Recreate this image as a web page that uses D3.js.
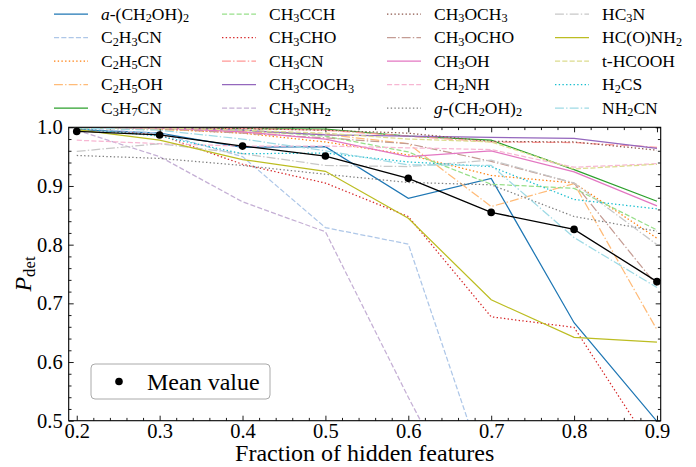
<!DOCTYPE html>
<html>
<head>
<meta charset="utf-8">
<script src="https://cdn.jsdelivr.net/npm/d3@7"></script>
<style>
  html, body { margin: 0; padding: 0; background: #fff; }
  svg { display: block; font-family: "Liberation Serif", "DejaVu Serif", serif; }
</style>
</head>
<body>
<svg id="chart" width="696" height="467"></svg>
<script>
// ---------------- data ----------------
const fractions = [0.2, 0.3, 0.4, 0.5, 0.6, 0.7, 0.8, 0.9];

// label markup: *text* = italic, _X = subscript char
const names = [
  "*a*-(CH_2OH)_2", "C_2H_3CN", "C_2H_5CN", "C_2H_5OH", "C_3H_7CN",
  "CH_3CCH", "CH_3CHO", "CH_3CN", "CH_3COCH_3", "CH_3NH_2",
  "CH_3OCH_3", "CH_3OCHO", "CH_3OH", "CH_2NH", "*g*-(CH_2OH)_2",
  "HC_3N", "HC(O)NH_2", "t-HCOOH", "H_2CS", "NH_2CN"
];

const aCH2OH2  = [0.996, 0.990, 0.966, 0.967, 0.879, 0.913, 0.667, 0.499];
const C2H3CN   = [0.998, 0.990, 0.950, 0.829, 0.801, 0.383, 0.450, 0.250];
const C2H5CN   = [0.999, 0.997, 0.990, 0.975, 0.953, 0.918, 0.905, 0.811];
const C2H5OH   = [0.999, 0.996, 0.992, 0.988, 0.972, 0.865, 0.904, 0.655];
const C3H7CN   = [1.000, 0.999, 0.998, 0.997, 0.985, 0.978, 0.928, 0.874];
const CH3CCH   = [0.999, 0.998, 0.995, 0.985, 0.958, 0.903, 0.896, 0.825];
const CH3CHO   = [0.997, 0.987, 0.937, 0.905, 0.848, 0.677, 0.659, 0.441];
const CH3CN    = [1.000, 0.999, 0.998, 0.995, 0.985, 0.975, 0.974, 0.966];
const CH3COCH3 = [1.000, 0.999, 0.995, 0.987, 0.985, 0.983, 0.981, 0.964];
const CH3NH2   = [0.995, 0.950, 0.873, 0.822, 0.540, 0.270, 0.410, 0.180];
const CH3OCH3  = [1.000, 0.999, 0.998, 0.995, 0.990, 0.976, 0.975, 0.961];
const CH3OCHO  = [1.000, 0.998, 0.990, 0.982, 0.972, 0.942, 0.905, 0.730];
const CH3OH    = [1.000, 0.999, 0.992, 0.980, 0.950, 0.960, 0.924, 0.866];
const CH2NH    = [0.978, 0.972, 0.968, 0.968, 0.965, 0.962, 0.932, 0.938];
const gCH2OH2  = [0.952, 0.947, 0.935, 0.920, 0.906, 0.902, 0.848, 0.823];
const HC3N     = [0.959, 0.972, 0.955, 0.935, 0.933, 0.944, 0.905, 0.800];
const HCONH2   = [0.996, 0.978, 0.945, 0.925, 0.845, 0.706, 0.642, 0.634];
const tHCOOH   = [1.000, 0.999, 0.995, 0.990, 0.980, 0.975, 0.929, 0.937];
const H2CS     = [0.998, 0.985, 0.955, 0.956, 0.941, 0.933, 0.877, 0.861];
const NH2CN    = [0.999, 0.995, 0.980, 0.960, 0.936, 0.935, 0.812, 0.727];

const meanValue = [0.993, 0.987, 0.968, 0.951, 0.913, 0.855, 0.826, 0.737];

const seriesValues = [aCH2OH2, C2H3CN, C2H5CN, C2H5OH, C3H7CN, CH3CCH, CH3CHO, CH3CN,
  CH3COCH3, CH3NH2, CH3OCH3, CH3OCHO, CH3OH, CH2NH, gCH2OH2, HC3N, HCONH2, tHCOOH, H2CS, NH2CN];

const xTicks = [0.2, 0.3, 0.4, 0.5, 0.6, 0.7, 0.8, 0.9];
const yTicks = [0.5, 0.6, 0.7, 0.8, 0.9, 1.0];

// ---------------- style ----------------
const colors = ["#1f77b4","#aec7e8","#ff7f0e","#ffbb78","#2ca02c","#98df8a",
  "#d62728","#ff9896","#9467bd","#c5b0d5","#8c564b","#c49c94","#e377c2","#f7b6d2",
  "#7f7f7f","#c7c7c7","#bcbd22","#dbdb8d","#17becf","#9edae5"];
const dashStyles = [null, "5.1,2.2", "1.4,2.3", "8.9,2.2,1.4,2.2"];

const svg = d3.select("#chart");
const L = 68.7, R = 660.7, T = 127.3, B = 420.7;

const x = d3.scaleLinear().domain([0.1903, 0.9045]).range([L, R]);
const y = d3.scaleLinear().domain([0.5, 1.0]).range([B, T]);

// clip
svg.append("defs").append("clipPath").attr("id", "plotclip")
  .append("rect").attr("x", L).attr("y", T).attr("width", R - L).attr("height", B - T);

// minor ticks
const xMinor = d3.range(0.22, 0.9, 0.02).filter(v => Math.abs(v * 10 - Math.round(v * 10)) > 1e-6);
const yMinor = d3.range(0.52, 1.0, 0.02).filter(v => Math.abs(v * 10 - Math.round(v * 10)) > 1e-6);

function styleAxis(g) {
  g.select(".domain").remove();
  g.selectAll(".tick line").attr("stroke", "#000").attr("stroke-width", 0.9);
}

svg.append("g").attr("transform", `translate(0,${B})`)
  .call(d3.axisBottom(x).tickValues(xTicks).tickSize(-5).tickPadding(2.5).tickFormat(d3.format(".1f")))
  .call(styleAxis)
  .selectAll("text").attr("font-size", 20.5).attr("font-family", "Liberation Serif").attr("fill", "#000");
svg.append("g").attr("transform", `translate(0,${B})`)
  .call(d3.axisBottom(x).tickValues(xMinor).tickSize(-2.8).tickFormat(""))
  .call(styleAxis);
svg.append("g").attr("transform", `translate(0,${T})`)
  .call(d3.axisTop(x).tickValues(xTicks).tickSize(-5).tickFormat(""))
  .call(styleAxis);
svg.append("g").attr("transform", `translate(0,${T})`)
  .call(d3.axisTop(x).tickValues(xMinor).tickSize(-2.8).tickFormat(""))
  .call(styleAxis);

svg.append("g").attr("transform", `translate(${L},0)`)
  .call(d3.axisLeft(y).tickValues(yTicks).tickSize(-5).tickPadding(6).tickFormat(d3.format(".1f")))
  .call(styleAxis)
  .selectAll("text").attr("font-size", 20.5).attr("font-family", "Liberation Serif").attr("fill", "#000");
svg.append("g").attr("transform", `translate(${L},0)`)
  .call(d3.axisLeft(y).tickValues(yMinor).tickSize(-2.8).tickFormat(""))
  .call(styleAxis);
svg.append("g").attr("transform", `translate(${R},0)`)
  .call(d3.axisRight(y).tickValues(yTicks).tickSize(-5).tickFormat(""))
  .call(styleAxis);
svg.append("g").attr("transform", `translate(${R},0)`)
  .call(d3.axisRight(y).tickValues(yMinor).tickSize(-2.8).tickFormat(""))
  .call(styleAxis);

// series lines
const line = d3.line().x((d, i) => x(fractions[i])).y(d => y(d));
const plot = svg.append("g").attr("clip-path", "url(#plotclip)");
seriesValues.forEach((vals, i) => {
  plot.append("path")
    .attr("d", line(vals))
    .attr("fill", "none")
    .attr("stroke", colors[i])
    .attr("stroke-width", 1.25)
    .attr("stroke-dasharray", dashStyles[i % 4]);
});

// mean line
plot.append("path").attr("d", line(meanValue))
  .attr("fill", "none").attr("stroke", "#000").attr("stroke-width", 1.3);
plot.selectAll("circle.mean").data(meanValue).join("circle")
  .attr("class", "mean")
  .attr("cx", (d, i) => x(fractions[i])).attr("cy", d => y(d)).attr("r", 3.8).attr("fill", "#000");

// frame
svg.append("rect").attr("x", L).attr("y", T).attr("width", R - L).attr("height", B - T)
  .attr("fill", "none").attr("stroke", "#000").attr("stroke-width", 1.1);

// rich label helper
function richText(sel, label) {
  const parts = [];
  let i = 0, italic = false;
  while (i < label.length) {
    const c = label[i];
    if (c === "*") { italic = !italic; i++; continue; }
    if (c === "_") { parts.push({ t: label[i + 1], sub: true, it: italic }); i += 2; continue; }
    parts.push({ t: c, sub: false, it: italic }); i++;
  }
  const merged = [];
  parts.forEach(p => {
    const last = merged[merged.length - 1];
    if (last && last.sub === p.sub && last.it === p.it) last.t += p.t; else merged.push({ ...p });
  });
  let shifted = false;
  merged.forEach(p => {
    const ts = sel.append("tspan").text(p.t);
    if (p.it) ts.attr("font-style", "italic");
    if (p.sub) { ts.attr("font-size", "70%").attr("dy", shifted ? null : "0.22em"); shifted = true; }
    else if (shifted) { ts.attr("dy", "-0.154em"); shifted = false; }
  });
}

// top legend
const colX = [54, 222, 387, 555];
names.forEach((nm, i) => {
  const col = Math.floor(i / 5), row = i % 5;
  const by = 19.5 + row * 23.5;
  const hx = colX[col];
  svg.append("line")
    .attr("x1", hx).attr("x2", hx + 34).attr("y1", by - 5.5).attr("y2", by - 5.5)
    .attr("stroke", colors[i]).attr("stroke-width", 1.25)
    .attr("stroke-dasharray", dashStyles[i % 4]);
  const t = svg.append("text").attr("x", hx + 47).attr("y", by)
    .attr("font-size", 17.5).attr("fill", "#000");
  richText(t, nm);
});

// mean legend box
svg.append("rect").attr("x", 91).attr("y", 364).attr("width", 179).attr("height", 35)
  .attr("rx", 4).attr("fill", "#fff").attr("stroke", "#aaa").attr("stroke-width", 1);
svg.append("circle").attr("cx", 119).attr("cy", 381.5).attr("r", 3.8).attr("fill", "#000");
svg.append("text").attr("x", 147).attr("y", 389.5).attr("font-size", 24).attr("fill", "#000").text("Mean value");

// axis labels
svg.append("text").attr("x", (L + R) / 2).attr("y", 461).attr("text-anchor", "middle")
  .attr("font-size", 24).attr("fill", "#000").text("Fraction of hidden features");

const yl = svg.append("text").attr("transform", `translate(31,${(T + B) / 2}) rotate(-90)`)
  .attr("text-anchor", "middle").attr("font-size", 24).attr("fill", "#000");
yl.append("tspan").attr("font-style", "italic").text("P");
yl.append("tspan").attr("font-size", "70%").attr("dy", "0.22em").text("det");
</script>
</body>
</html>
